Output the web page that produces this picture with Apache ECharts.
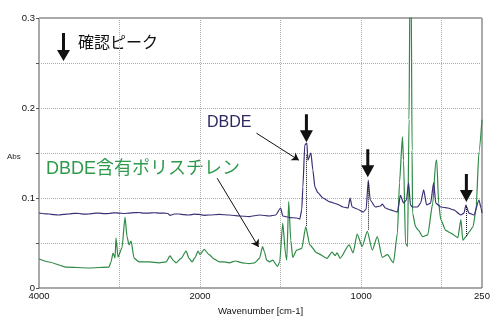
<!DOCTYPE html>
<html><head><meta charset="utf-8">
<script src="https://cdn.jsdelivr.net/npm/echarts@6/dist/echarts.min.js"></script>
<style>html,body{margin:0;padding:0;background:#fff}#c{width:500px;height:325px}</style>
</head><body><div id="c"></div>
<script>
// DBDE spectrum (wavenumber cm-1, absorbance)
const dbdeWn = [4000,3940,3876,3810,3752,3690,3627,3560,3503,3440,3379,3320,3255,3190,3131,3070,3006,2940,2882,2820,2758,2700,2634,2570,2510,2448,2400,2373,2323,2261,2200,2137,2070,2012,1975,1944,1881,1819,1756,1694,1631,1569,1531,1500,1487,1444,1400,1381,1369,1362,1350,1337,1331,1312,1300,1287,1269,1237,1194,1150,1112,1081,1069,1056,1025,987,969,956,944,912,881,869,850,819,775,756,737,719,706,694,681,650,631,612,594,569,550,537,506,462,425,381,362,350,331,300,269,256,250];
const dbdeAbs = [0.0833,0.0825,0.0822,0.0815,0.0811,0.0818,0.0822,0.0830,0.0828,0.0820,0.0822,0.0830,0.0833,0.0826,0.0828,0.0835,0.0833,0.0828,0.0833,0.0838,0.0839,0.0832,0.0833,0.0836,0.0833,0.0833,0.0828,0.0806,0.0822,0.0822,0.0815,0.0811,0.0820,0.0817,0.0808,0.0811,0.0817,0.0811,0.0800,0.0794,0.0811,0.0800,0.0811,0.0889,0.0800,0.0783,0.0778,0.0767,0.0867,0.112,0.159,0.161,0.142,0.150,0.131,0.112,0.106,0.100,0.0956,0.0933,0.0900,0.0889,0.100,0.0900,0.0878,0.0844,0.0878,0.120,0.0978,0.0900,0.0911,0.0933,0.0889,0.0867,0.0844,0.103,0.0944,0.0978,0.117,0.0922,0.0900,0.0900,0.0944,0.109,0.0922,0.0944,0.117,0.0944,0.0900,0.0889,0.0867,0.0811,0.0833,0.0922,0.0833,0.0811,0.0978,0.0889,0.0833];
// Polystyrene containing DBDE
const psWn = [4000,3876,3665,3379,3131,3106,3081,3056,3044,3019,2969,2932,2907,2882,2857,2820,2758,2634,2510,2423,2373,2336,2299,2236,2174,2137,2100,2062,2025,2000,1975,1944,1912,1881,1850,1819,1781,1737,1694,1662,1631,1612,1600,1587,1569,1550,1519,1506,1487,1469,1462,1450,1437,1425,1400,1369,1344,1319,1275,1212,1181,1162,1150,1131,1075,1050,1025,994,962,931,900,869,837,800,775,762,744,737,725,712,703,697,690,684,681,662,644,619,587,556,537,531,519,506,475,444,400,381,369,350,331,306,287,269,250];
const psAbs = [0.0322,0.0289,0.0233,0.0222,0.0233,0.0289,0.0389,0.0333,0.0556,0.0344,0.045,0.0789,0.0567,0.048,0.0522,0.0333,0.029,0.029,0.028,0.029,0.0356,0.031,0.028,0.033,0.041,0.033,0.029,0.034,0.041,0.037,0.043,0.037,0.032,0.029,0.029,0.028,0.030,0.028,0.027,0.028,0.033,0.046,0.040,0.031,0.029,0.031,0.024,0.029,0.072,0.037,0.031,0.096,0.053,0.034,0.042,0.044,0.068,0.048,0.039,0.033,0.040,0.036,0.039,0.033,0.048,0.039,0.060,0.046,0.063,0.042,0.057,0.034,0.037,0.028,0.061,0.117,0.168,0.142,0.050,0.046,0.187,0.34,0.34,0.153,0.083,0.068,0.064,0.057,0.059,0.094,0.140,0.142,0.094,0.076,0.064,0.061,0.056,0.076,0.053,0.057,0.062,0.068,0.087,0.151,0.187];
// axis tick labels
const xTickLabels = [4000, 2000, 1000, 250];
const yTickLabels = [0, 0.1, 0.2, 0.3];
// confirmed peaks (arrows): wavenumber, arrow tip, dotted line top/bottom
const peakWn = [1340, 959, 347];
const peakArrowTip = [0.162, 0.123, 0.0955];
const peakDotTop = [0.148, 0.117, 0.090];
const peakDotBottom = [0.068, 0.064, 0.057];
// leader lines for the labels
const dbdeLeader = [[1650, 0.172], [1387, 0.142]];
const psLeader = [[1894, 0.122], [1637, 0.0456]];

// split wavenumber axis: 4000-2000 at half scale
function toAxis(w) { return w >= 2000 ? (4000 - w) / 2 : 1000 + (2000 - w); }
function fromAxis(u) { return u <= 1000 ? 4000 - 2 * u : 2000 - (u - 1000); }

const FONT = "Arial, 'Liberation Sans', 'Noto Sans CJK JP', sans-serif";
const arrowPath = 'path://M5,0L8,0L8,16L13,16L6.5,28L0,16L5,16Z';

const chart = echarts.init(document.getElementById('c'), null, { renderer: 'canvas' });
chart.setOption({
  animation: false,
  backgroundColor: '#fff',
  grid: { left: 39, right: 18, top: 18, bottom: 37, show: true, borderColor: '#555', borderWidth: 1, backgroundColor: 'transparent' },
  xAxis: {
    type: 'value', min: 0, max: 2750, interval: 500,
    name: 'Wavenumber [cm-1]', nameLocation: 'middle', nameGap: 15,
    nameTextStyle: { fontFamily: FONT, fontSize: 9.5, color: '#111' },
    axisLine: { show: false },
    axisTick: { show: false },
    axisLabel: {
      customValues: xTickLabels.map(toAxis),
      formatter: v => String(Math.round(fromAxis(v))),
      fontFamily: FONT, fontSize: 9.5, color: '#111', margin: 4
    },
    splitLine: { show: true, lineStyle: { type: 'dotted', color: '#aaa', width: 1 } }
  },
  yAxis: {
    type: 'value', min: 0, max: 0.3, interval: 0.05,
    axisLine: { show: false },
    axisTick: { show: true, length: 3, lineStyle: { color: '#555' } },
    axisLabel: {
      formatter: v => {
        const hit = yTickLabels.find(t => Math.abs(t - v) < 1e-6);
        return hit === undefined ? '' : (hit === 0 ? '0' : hit.toFixed(1));
      },
      fontFamily: FONT, fontSize: 9.5, color: '#111', margin: 4
    },
    splitLine: { show: true, lineStyle: { type: 'dotted', color: '#aaa', width: 1 } }
  },
  graphic: [
    { type: 'polygon', shape: { points: [[62, 33], [65, 33], [65, 50], [70, 50], [63.5, 61], [57, 50], [62, 50]] }, style: { fill: '#111' } },
    { type: 'text', left: 78, top: 36, style: { text: '確認ピーク', font: '16px ' + FONT, fill: '#111' } },
    { type: 'text', left: 207, top: 115, style: { text: 'DBDE', font: '16px ' + FONT, fill: '#2b2862' } },
    { type: 'text', left: 46, top: 160, style: { text: 'DBDE含有ポリスチレン', font: '18px ' + FONT, fill: '#2f9a4c' } },
    { type: 'text', left: 7, top: 153, style: { text: 'Abs', font: '8px ' + FONT, fill: '#222' } }
  ],
  series: [
    {
      name: 'DBDE含有ポリスチレン', type: 'line', showSymbol: false, silent: true,
      smooth: 0.2, smoothMonotone: 'x',
      lineStyle: { color: '#2e8a45', width: 1.2 },
      data: psWn.map((w, i) => [toAxis(w), psAbs[i]]),
      markLine: {
        silent: true, animation: false, symbol: ['none', 'arrow'], symbolSize: 7,
        label: { show: false },
        lineStyle: { color: '#111', width: 1, type: 'solid' },
        data: [
          [{ coord: [toAxis(dbdeLeader[0][0]), dbdeLeader[0][1]] }, { coord: [toAxis(dbdeLeader[1][0]), dbdeLeader[1][1]] }],
          [{ coord: [toAxis(psLeader[0][0]), psLeader[0][1]] }, { coord: [toAxis(psLeader[1][0]), psLeader[1][1]] }]
        ]
      }
    },
    {
      name: 'DBDE', type: 'line', showSymbol: false, silent: true,
      smooth: 0.2, smoothMonotone: 'x',
      lineStyle: { color: '#3b2f75', width: 1.2 },
      data: dbdeWn.map((w, i) => [toAxis(w), dbdeAbs[i]]),
      markLine: {
        silent: true, animation: false, symbol: 'none',
        label: { show: false },
        lineStyle: { color: '#111', width: 1, type: 'dotted' },
        data: peakWn.map((w, i) => [{ coord: [toAxis(w), peakDotTop[i]] }, { coord: [toAxis(w), peakDotBottom[i]] }])
      },
      markPoint: {
        silent: true, animation: false,
        symbol: arrowPath, symbolSize: [13, 28], symbolOffset: [0, '-50%'],
        itemStyle: { color: '#111' },
        label: { show: false },
        data: peakWn.map((w, i) => ({ coord: [toAxis(w), peakArrowTip[i]] }))
      }
    }
  ]
});
</script>
</body></html>
